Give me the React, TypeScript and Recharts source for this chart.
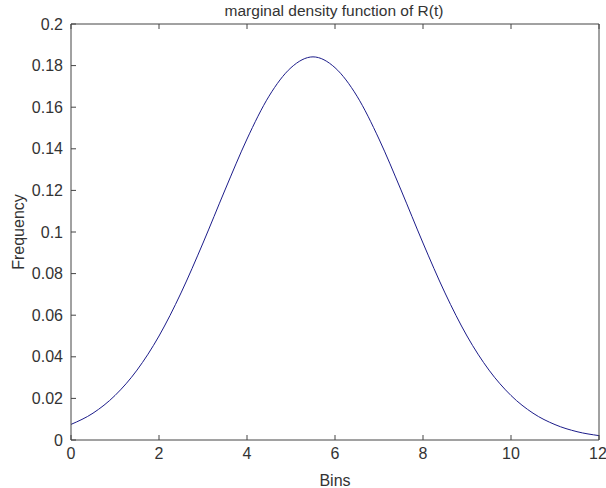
import { LineChart, Line, XAxis, YAxis } from 'recharts';

const bins = [0, 0.5, 1, 1.5, 2, 2.5, 3, 3.5, 4, 4.5, 5, 5.5, 6, 6.5, 7, 7.5, 8, 8.5, 9, 9.5, 10, 10.5, 11, 11.5, 12];
const frequency = [
  0.0075, 0.0129, 0.0214, 0.0336, 0.05, 0.0707, 0.0947, 0.1202, 0.1447, 0.1653, 0.179, 0.1842,
  0.179, 0.1653, 0.1447, 0.1202, 0.0947, 0.0707, 0.05, 0.0336, 0.0214, 0.0129, 0.0074, 0.004, 0.0021,
];
const xTicks = [0, 2, 4, 6, 8, 10, 12];
const yTicks = [0, 0.02, 0.04, 0.06, 0.08, 0.1, 0.12, 0.14, 0.16, 0.18, 0.2];

const data = bins.map((b, i) => ({ bin: b, freq: frequency[i] }));

const font = '"Liberation Sans", Arial, sans-serif';
const textColor = '#333';
const axisColor = '#444';
const tickStyle = { fontSize: 16, fill: textColor, fontFamily: font };

export default function App() {
  return (
    <div style={{ position: 'absolute', left: 0, top: 0, width: 606, height: 488, background: '#fff' }}>
      <div
        style={{
          position: 'absolute',
          left: 71,
          top: 2,
          width: 526,
          textAlign: 'center',
          fontFamily: font,
          fontSize: 15.5,
          color: textColor,
          lineHeight: '18px',
        }}
      >
        marginal density function of R(t)
      </div>
      <LineChart width={606} height={488} data={data} margin={{ top: 4, right: 0, bottom: 0, left: 0 }}>
        <XAxis
          xAxisId="bottom"
          dataKey="bin"
          type="number"
          domain={[0, 12]}
          ticks={xTicks}
          height={48}
          tickSize={-5}
          tickMargin={13}
          stroke={axisColor}
          tick={tickStyle}
          label={{
            content: ({ viewBox }: any) => (
              <text
                x={viewBox.x + viewBox.width / 2}
                y={viewBox.y + 46}
                textAnchor="middle"
                fontSize={16}
                fontFamily={font}
                fill={textColor}
              >
                Bins
              </text>
            ),
          }}
        />
        <XAxis
          xAxisId="top"
          orientation="top"
          dataKey="bin"
          type="number"
          domain={[0, 12]}
          ticks={xTicks}
          height={20}
          tickSize={-5}
          tickFormatter={() => ''}
          stroke={axisColor}
        />
        <YAxis
          yAxisId="left"
          domain={[0, 0.2]}
          ticks={yTicks}
          width={71}
          tickSize={-5}
          tickMargin={13}
          stroke={axisColor}
          tick={tickStyle}
          label={{
            content: ({ viewBox }: any) => (
              <text
                x={24}
                y={viewBox.y + viewBox.height / 2}
                textAnchor="middle"
                fontSize={16}
                fontFamily={font}
                fill={textColor}
                transform={`rotate(-90, 24, ${viewBox.y + viewBox.height / 2})`}
              >
                Frequency
              </text>
            ),
          }}
        />
        <YAxis
          yAxisId="right"
          orientation="right"
          domain={[0, 0.2]}
          ticks={yTicks}
          width={7}
          tickSize={-5}
          tickFormatter={() => ''}
          stroke={axisColor}
        />
        <Line
          xAxisId="bottom"
          yAxisId="left"
          type="monotone"
          dataKey="freq"
          stroke="#1c1c8a"
          strokeWidth={1}
          dot={false}
          isAnimationActive={false}
        />
      </LineChart>
    </div>
  );
}
